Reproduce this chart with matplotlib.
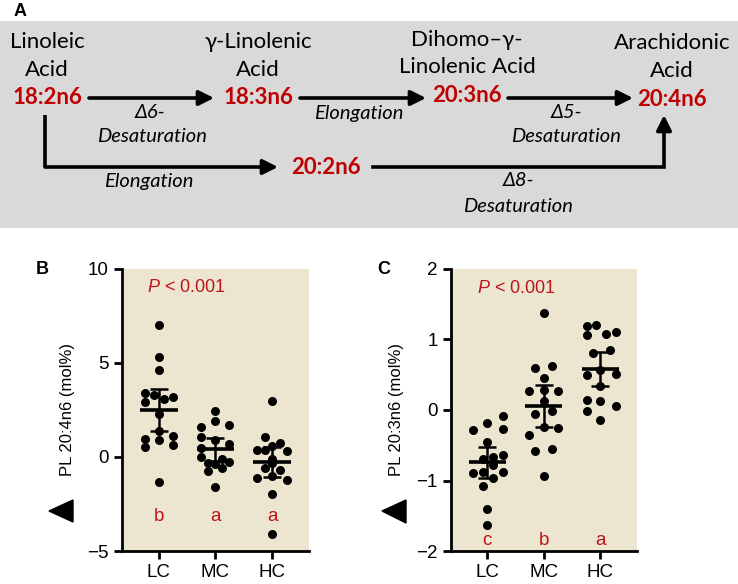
import numpy as np
import matplotlib
matplotlib.use('Agg')
import matplotlib.pyplot as plt
from matplotlib.patches import Rectangle, Polygon

plt.rcParams['font.family'] = ['Liberation Sans', 'DejaVu Sans']
plt.rcParams['mathtext.fontset'] = 'custom'
plt.rcParams['mathtext.it'] = 'Liberation Sans:italic'
plt.rcParams['mathtext.rm'] = 'Liberation Sans'

# ---- data ----
groups = ['LC', 'MC', 'HC']

# panel B: PL 20:4n6 (mol%)
b_lc = [7.0, 5.32, 4.61, 3.40, 3.32, 3.11, 3.18, 2.93, 2.27, 1.38, 0.89, 0.98, 1.12, 0.53, 0.62, -1.33]
b_lc_dx = [0, 0, 0, -0.25, -0.08, 0.09, 0.25, -0.25, 0, 0, 0, -0.25, 0.25, -0.25, 0.25, 0]
b_mc = [2.43, 1.90, 1.69, 1.60, 1.06, 0.92, 0.71, 0.50, 0.0, -0.09, -0.27, -0.32, -0.35, -0.59, -0.76, -1.60]
b_mc_dx = [0, 0, 0.24, -0.26, -0.26, 0, 0.24, -0.26, -0.26, 0.12, 0.24, -0.13, 0, 0.12, -0.13, 0]
b_hc = [2.98, 1.06, 0.75, 0.57, 0.39, 0.35, 0.32, -0.09, -0.30, -0.56, -0.71, -1.03, -1.12, -1.20, -1.95, -4.08]
b_hc_dx = [0, -0.13, 0.13, 0, -0.26, -0.13, 0.26, 0, 0, -0.13, 0.13, 0, -0.26, 0.26, 0, 0]
b_mean = [2.48, 0.40, -0.28]
b_err = [1.12, 0.60, 0.80]
b_letters = ['b', 'a', 'a']

# panel C: PL 20:3n6 (mol%)
c_lc = [-0.09, -0.18, -0.28, -0.27, -0.45, -0.64, -0.70, -0.67, -0.78, -0.89, -0.88, -0.88, -0.97, -1.08, -1.41, -1.63]
c_lc_dx = [0.27, 0, -0.26, 0.27, 0, 0.27, -0.08, 0.1, 0.1, -0.26, -0.08, 0.27, 0.1, -0.08, 0, 0]
c_mc = [1.37, 0.59, 0.63, 0.46, 0.27, 0.28, 0.27, 0.13, -0.06, -0.01, -0.24, -0.26, -0.36, -0.58, -0.56, -0.93]
c_mc_dx = [0, -0.15, 0.15, 0, -0.26, 0, 0.25, 0, -0.15, 0.15, 0, 0.25, -0.26, -0.15, 0.15, 0]
c_hc = [1.19, 1.21, 1.07, 1.08, 1.10, 0.81, 0.85, 0.57, 0.49, 0.51, 0.34, 0.14, 0.13, 0.06, -0.01, -0.14]
c_hc_dx = [-0.24, -0.08, -0.24, 0.1, 0.27, -0.135, 0.18, 0, -0.24, 0.27, 0, -0.24, 0, 0.27, -0.24, 0]
c_mean = [-0.74, 0.06, 0.58]
c_err = [0.22, 0.30, 0.245]
c_letters = ['c', 'b', 'a']

RED = '#c0141c'
BEIGE = '#ece5cf'

fig = plt.figure(figsize=(7.38, 5.84), dpi=100)

# ---- panel A: pathway diagram drawn in pixel space ----
bg = fig.add_axes([0, 0, 1, 1])
bg.set_xlim(0, 738)
bg.set_ylim(584, 0)
bg.axis('off')
bg.add_patch(Rectangle((0, 21), 738, 207, facecolor='#d9d9d9', edgecolor='none'))
bg.text(20, 11, 'A', fontsize=13, fontweight='bold', va='center', ha='center')

fa = ['Lato', 'DejaVu Sans']
name_kw = dict(fontsize=16, ha='center', va='center', family=fa)
num_kw = dict(fontsize=16, ha='center', va='center', family=fa, color='#c00000', fontweight='bold')
lab_kw = dict(fontsize=14.5, ha='center', va='center', family=fa, style='italic')

bg.text(47, 42, 'Linoleic', **name_kw)
bg.text(47, 70, 'Acid', **name_kw)
bg.text(47, 98, '18:2n6', **num_kw)
bg.text(258, 42, 'γ-Linolenic', **name_kw)
bg.text(258, 70, 'Acid', **name_kw)
bg.text(258, 98, '18:3n6', **num_kw)
bg.text(467, 40, 'Dihomo–γ-', **name_kw)
bg.text(467, 67, 'Linolenic Acid', **name_kw)
bg.text(467, 96, '20:3n6', **num_kw)
bg.text(672, 43, 'Arachidonic', **name_kw)
bg.text(672, 71, 'Acid', **name_kw)
bg.text(672, 99, '20:4n6', **num_kw)
bg.text(326, 167, '20:2n6', **num_kw)

bg.text(150, 113, 'Δ6-', **lab_kw)
bg.text(152, 137, 'Desaturation', **lab_kw)
bg.text(359, 113, 'Elongation', **lab_kw)
bg.text(566, 113, 'Δ5-', **lab_kw)
bg.text(566, 137, 'Desaturation', **lab_kw)
bg.text(149, 182, 'Elongation', **lab_kw)
bg.text(519, 180, 'Δ8-', **lab_kw)
bg.text(518, 207, 'Desaturation', **lab_kw)

arrow_kw = dict(arrowstyle='-|>,head_length=0.9,head_width=0.45', color='black', lw=2.6,
                shrinkA=0, shrinkB=0)
for x0, x1, y in [(89, 214, 98), (300, 426, 98), (508, 633, 98), (45, 278, 167)]:
    bg.annotate('', xy=(x1, y), xytext=(x0, y), arrowprops=arrow_kw)
bg.plot([45, 45], [115, 167], color='black', lw=2.6, solid_capstyle='butt')
bg.plot([373, 664, 664], [167, 167, 128], color='black', lw=2.6, solid_joinstyle='miter')
bg.annotate('', xy=(664, 115), xytext=(664, 130), arrowprops=arrow_kw)

# ---- scatter panels ----
def dot_panel(ax, vals, dxs, means, errs, letters, ylim, yticks, ylabel, letter_y, ptxt):
    ax.set_facecolor(BEIGE)
    for i, (v, dx) in enumerate(zip(vals, dxs)):
        ax.scatter(i + np.array(dx), v, s=42, color='black', zorder=3, linewidths=0)
    x = np.arange(len(groups))
    ax.errorbar(x, means, yerr=errs, fmt='none', ecolor='black', elinewidth=1.8,
                capsize=6.3, capthick=1.8, zorder=4)
    ax.hlines(means, x - 0.33, x + 0.33, color='black', lw=2.6, zorder=4)
    for i, t in enumerate(letters):
        ax.text(i, letter_y, t, color=RED, fontsize=13.5, ha='center', va='center')
    ax.text(ptxt[0], ptxt[1], r'$\mathit{P}$ < 0.001', color=RED, fontsize=13,
            ha='left', va='center')
    ax.set_xlim(-0.65, 2.65)
    ax.set_ylim(*ylim)
    ax.set_yticks(yticks)
    ax.set_xticks(x)
    ax.set_xticklabels(groups)
    ax.set_ylabel(ylabel, fontsize=12, labelpad=9)
    for s in ['top', 'right']:
        ax.spines[s].set_visible(False)
    for s in ['left', 'bottom']:
        ax.spines[s].set_linewidth(2.0)
    ax.tick_params(direction='out', length=6, width=2.0, labelsize=13.5)

axB = fig.add_axes([0.1653, 0.0565, 0.2534, 0.4829])
dot_panel(axB, [b_lc, b_mc, b_hc], [b_lc_dx, b_mc_dx, b_hc_dx], b_mean, b_err, b_letters,
          (-5, 10), [-5, 0, 5, 10], 'PL 20:4n6 (mol%)', -3.15, (-0.2, 9.03))

axC = fig.add_axes([0.6107, 0.0565, 0.2524, 0.4829])
dot_panel(axC, [c_lc, c_mc, c_hc], [c_lc_dx, c_mc_dx, c_hc_dx], c_mean, c_err, c_letters,
          (-2, 2), [-2, -1, 0, 1, 2], 'PL 20:3n6 (mol%)', -1.85, (-0.18, 1.72))

# panel letters and the small black triangles at left of each panel
bg.text(42, 270, 'B', fontsize=13, fontweight='bold', ha='center', va='center')
bg.text(384, 270, 'C', fontsize=13, fontweight='bold', ha='center', va='center')
bg.add_patch(Polygon([(49, 511), (73, 500), (73, 522)], closed=True, color='black'))
bg.add_patch(Polygon([(382, 511), (406, 500), (406, 523)], closed=True, color='black'))

fig.savefig('out.png', dpi=100)
